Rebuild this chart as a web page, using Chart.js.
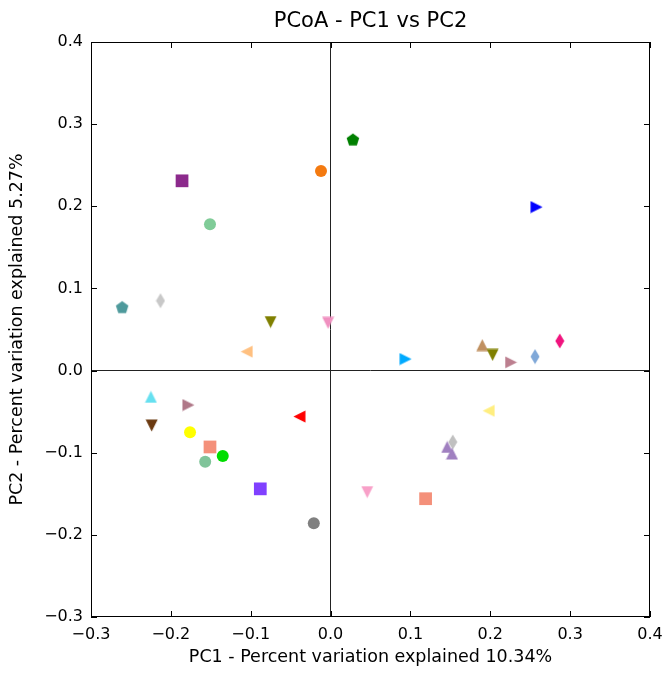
<!DOCTYPE html>
<html>
<head>
<meta charset="utf-8">
<script src="https://cdn.jsdelivr.net/npm/chart.js@4"></script>
<style>
  html, body { margin: 0; padding: 0; background: #fff; }
  #wrap { width: 664px; height: 675px; }
</style>
</head>
<body>
<div id="wrap"><canvas id="pcoa"></canvas></div>
<script>
// coordenadas de cada amostra (PC1, PC2)
const pc1 = [-0.186, -0.012, 0.028, -0.151, -0.261, -0.213, -0.075, -0.003, -0.105,
             0.258, 0.094, 0.190, 0.203, 0.226, 0.256, 0.287,
             -0.225, -0.178, -0.224, -0.176, -0.151, -0.135, -0.157, -0.039, -0.088, -0.021,
             0.046, 0.198, 0.153, 0.146, 0.152, 0.119];
const pc2 = [0.231, 0.243, 0.281, 0.178, 0.077, 0.085, 0.059, 0.058, 0.023,
             0.199, 0.014, 0.031, 0.019, 0.010, 0.017, 0.036,
             -0.032, -0.042, -0.067, -0.075, -0.093, -0.104, -0.111, -0.056, -0.144, -0.186,
             -0.148, -0.049, -0.087, -0.093, -0.101, -0.156];

const xTicks = [-0.3, -0.2, -0.1, 0.0, 0.1, 0.2, 0.3, 0.4];
const yTicks = [-0.3, -0.2, -0.1, 0.0, 0.1, 0.2, 0.3, 0.4];

// marcador de cada amostra (estilo matplotlib)
const markers = ['s', 'o', 'p', 'o', 'p', 'd', 'v', 'v', '<',
                 '>', '>', '^', 'v', '>', 'd', 'd',
                 '^', '>', 'v', 'o', 's', 'o', 'o', '<', 's', 'o',
                 'v', '<', 'd', '^', '^', 's'];
const colours = ['#8c2a8c', '#f47a10', '#008000', '#80cc98', '#4e9a9c', '#c8c8c8', '#808000', '#f090c0', '#ffc080',
                 '#0000ff', '#00aaff', '#c09060', '#808000', '#bc7f8f', '#80a8d8', '#f0147e',
                 '#66e0f0', '#b07888', '#6b3a10', '#ffff00', '#f4907a', '#00dd00', '#80c49a', '#ff0000', '#8040ff', '#808080',
                 '#f8a0c8', '#ffee80', '#c0c0c0', '#a080c0', '#a080c0', '#f4907a'];

const FONT = "'DejaVu Sans', sans-serif";
const fmt = v => v.toFixed(1).replace('-', '\u2212');

// desenha os marcadores que o Chart.js não tem
const cache = {};
function shapeCanvas(kind, colour) {
    const key = kind + colour;
    if (cache[key]) return cache[key];
    const c = document.createElement('canvas');
    const g = c.getContext('2d');
    if (kind === 'p') {
        c.width = 14; c.height = 14;
        g.fillStyle = colour;
        g.beginPath();
        for (let i = 0; i < 5; i++) {
            const a = -Math.PI / 2 + i * 2 * Math.PI / 5;
            const px = 7 + 6.6 * Math.cos(a), py = 7.4 + 6.6 * Math.sin(a);
            i ? g.lineTo(px, py) : g.moveTo(px, py);
        }
    } else if (kind === 'd') {
        c.width = 10; c.height = 16;
        g.fillStyle = colour;
        g.beginPath();
        g.moveTo(5, 0.5); g.lineTo(9.5, 8); g.lineTo(5, 15.5); g.lineTo(0.5, 8);
    } else {
        // triângulo para cima; a rotação vem do Chart.js
        c.width = 13; c.height = 13;
        g.fillStyle = colour;
        g.beginPath();
        g.moveTo(6.5, 0.5); g.lineTo(12.5, 12.5); g.lineTo(0.5, 12.5);
    }
    g.closePath();
    g.fill();
    cache[key] = c;
    return c;
}

const rotations = { '^': 0, 'v': 180, '>': 90, '<': -90 };

function pointStyleFor(i) {
    const m = markers[i];
    if (m === 'o') return 'circle';
    if (m === 's') return 'rect';
    return shapeCanvas(m === 'p' || m === 'd' ? m : 't', colours[i]);
}

// moldura e ticks para dentro, nos quatro lados
const frameTicks = {
    id: 'frameTicks',
    afterDraw(chart) {
        const { ctx, chartArea: a, scales: { x, y } } = chart;
        ctx.save();
        ctx.strokeStyle = '#000';
        ctx.lineWidth = 1;
        ctx.strokeRect(a.left + 0.5, a.top + 0.5, a.right - a.left - 1, a.bottom - a.top - 1);
        ctx.beginPath();
        xTicks.forEach(v => {
            const px = Math.round(x.getPixelForValue(v)) + 0.5;
            ctx.moveTo(px, a.bottom); ctx.lineTo(px, a.bottom - 6);
            ctx.moveTo(px, a.top); ctx.lineTo(px, a.top + 6);
        });
        yTicks.forEach(v => {
            const py = Math.round(y.getPixelForValue(v)) + 0.5;
            ctx.moveTo(a.left, py); ctx.lineTo(a.left + 6, py);
            ctx.moveTo(a.right, py); ctx.lineTo(a.right - 6, py);
        });
        ctx.stroke();
        ctx.restore();
    }
};

const zeroLine = c => (c.tick && c.tick.value === 0) ? '#222' : 'rgba(0,0,0,0)';

new Chart(document.getElementById('pcoa'), {
    type: 'scatter',
    data: {
        datasets: [{
            data: pc1.map((v, i) => ({ x: v, y: pc2[i] })),
            backgroundColor: colours,
            borderColor: colours,
            borderWidth: 0,
            pointStyle: pc1.map((v, i) => pointStyleFor(i)),
            rotation: markers.map(m => rotations[m] || 0),
            radius: markers.map(m => m === 's' ? 9 : 6),
            hoverRadius: markers.map(m => m === 's' ? 9 : 6)
        }]
    },
    options: {
        responsive: true,
        maintainAspectRatio: false,
        animation: false,
        events: [],
        layout: { padding: { top: 9, right: 14, left: 0, bottom: 0 } },
        plugins: {
            legend: { display: false },
            tooltip: { enabled: false },
            title: {
                display: true,
                fullSize: false,
                text: 'PCoA - PC1 vs PC2',
                color: '#000',
                font: { family: FONT, size: 21, weight: 'normal' },
                padding: { top: 0, bottom: 7.8 }
            }
        },
        scales: {
            x: {
                type: 'linear',
                min: -0.3,
                max: 0.4,
                afterBuildTicks: s => { s.ticks = xTicks.map(v => ({ value: v })); },
                afterFit: s => { s.height = 58; s.paddingLeft = 0; s.paddingRight = 0; },
                grid: { color: zeroLine, drawTicks: false, lineWidth: 1 },
                border: { display: false },
                ticks: {
                    color: '#000',
                    padding: 8,
                    maxRotation: 0,
                    font: { family: FONT, size: 16 },
                    callback: v => fmt(v)
                },
                title: {
                    display: true,
                    text: 'PC1 - Percent variation explained 10.34%',
                    color: '#000',
                    font: { family: FONT, size: 17.5 },
                    padding: { top: 0, bottom: 7 }
                }
            },
            y: {
                type: 'linear',
                min: -0.3,
                max: 0.4,
                afterBuildTicks: s => { s.ticks = yTicks.map(v => ({ value: v })); },
                afterFit: s => { s.width = 91; s.paddingTop = 0; s.paddingBottom = 0; },
                grid: { color: zeroLine, drawTicks: false, lineWidth: 1 },
                border: { display: false },
                ticks: {
                    color: '#000',
                    padding: 8,
                    font: { family: FONT, size: 16 },
                    callback: v => fmt(v)
                },
                title: {
                    display: true,
                    text: 'PC2 - Percent variation explained 5.27%',
                    color: '#000',
                    font: { family: FONT, size: 17.5 },
                    padding: { top: 7, bottom: 0 }
                }
            }
        }
    },
    plugins: [frameTicks]
});
</script>
</body>
</html>
